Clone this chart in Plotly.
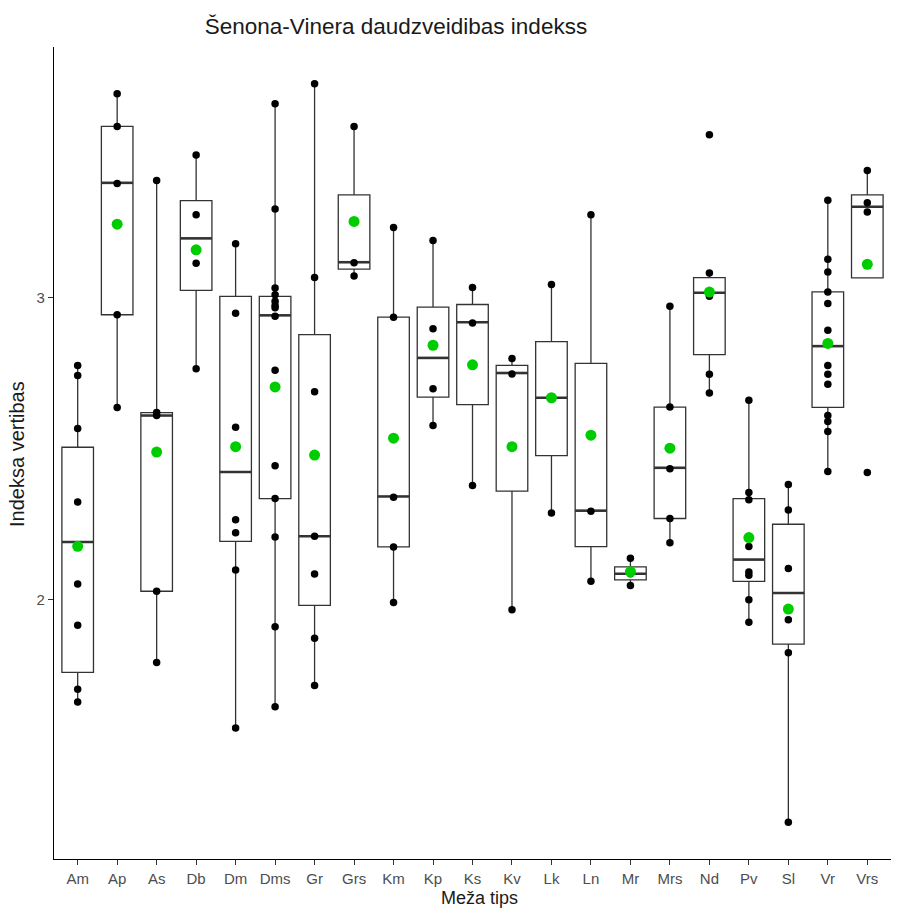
import plotly.graph_objects as go

# Forest types on the x axis
categories = ["Am", "Ap", "As", "Db", "Dm", "Dms", "Gr", "Grs", "Km", "Kp", "Ks",
              "Kv", "Lk", "Ln", "Mr", "Mrs", "Nd", "Pv", "Sl", "Vr", "Vrs"]

# Box statistics per forest type
q1 = [1.759, 2.944, 2.028, 3.025, 2.193, 2.335, 1.981, 3.095, 2.175, 2.671, 2.646,
      2.360, 2.477, 2.176, 2.066, 2.269, 2.812, 2.061, 1.853, 2.637, 3.066]
median = [2.191, 3.381, 2.610, 3.197, 2.423, 2.942, 2.210, 3.118, 2.342, 2.801, 2.919,
          2.751, 2.669, 2.295, 2.086, 2.437, 3.017, 2.133, 2.022, 2.840, 3.302]
q3 = [2.505, 3.568, 2.620, 3.322, 3.005, 3.005, 2.878, 3.341, 2.936, 2.969, 2.978,
      2.776, 2.855, 2.783, 2.109, 2.638, 3.067, 2.335, 2.250, 3.020, 3.341]
lower_whisker = [1.661, 2.637, 1.792, 2.765, 1.575, 1.645, 1.716, 3.072, 1.991, 2.577, 2.378,
                 1.967, 2.287, 2.061, 2.047, 2.189, 2.685, 1.925, 1.263, 2.425, 3.066]
upper_whisker = [2.776, 3.676, 3.389, 3.473, 3.179, 3.643, 3.709, 3.568, 3.233, 3.190, 3.034,
                 2.799, 3.044, 3.275, 2.137, 2.972, 3.082, 2.661, 2.382, 3.323, 3.422]

# Group means
mean_values = [2.177, 3.244, 2.489, 3.159, 2.507, 2.705, 2.479, 3.253, 2.535, 2.843, 2.778,
               2.507, 2.669, 2.545, 2.093, 2.502, 3.019, 2.206, 1.969, 2.849, 3.111]

# Individual index values per forest type
point_values = [
    [2.776, 2.743, 2.567, 2.324, 2.052, 1.915, 1.703, 1.661],
    [3.676, 3.568, 3.379, 2.944, 2.637],
    [3.389, 2.620, 2.610, 2.028, 1.792],
    [3.473, 3.275, 3.115, 2.765],
    [3.179, 2.949, 2.571, 2.265, 2.222, 2.098, 1.575],
    [3.643, 3.294, 3.033, 3.010, 2.989, 2.975, 2.967, 2.939, 2.760, 2.444, 2.335, 2.208, 1.910, 1.645],
    [3.709, 3.067, 2.689, 2.210, 2.085, 1.872, 1.716],
    [3.568, 3.116, 3.072],
    [3.233, 2.936, 2.339, 2.175, 1.991],
    [3.190, 2.898, 2.699, 2.577],
    [3.034, 2.917, 2.378],
    [2.799, 2.748, 1.967],
    [3.044, 2.287],
    [3.275, 2.293, 2.061],
    [2.137, 2.086, 2.047],
    [2.972, 2.638, 2.434, 2.269, 2.189],
    [3.540, 3.082, 3.005, 2.747, 2.685],
    [2.661, 2.355, 2.331, 2.176, 2.092, 2.081, 2.000, 1.925],
    [2.382, 2.297, 2.103, 1.934, 1.824, 1.263],
    [3.323, 3.128, 3.086, 3.019, 2.981, 2.893, 2.776, 2.747, 2.714, 2.610, 2.590, 2.557, 2.425],
    [3.422, 3.315, 3.284, 2.421],
]

positions = list(range(len(categories)))
box_half = 0.4
edge = "#333333"
font_family = "Liberation Sans, Arial, sans-serif"

fig = go.Figure()

fig.add_trace(go.Box(
    x=positions, q1=q1, median=median, q3=q3,
    lowerfence=lower_whisker, upperfence=upper_whisker,
    width=2 * box_half, whiskerwidth=0, boxpoints=False,
    fillcolor="white", line=dict(color=edge, width=1.3),
    showlegend=False, hoverinfo="skip",
))

# Thicker median bars, as in ggplot boxplots
mx, my = [], []
for p, m in zip(positions, median):
    mx += [p - box_half, p + box_half, None]
    my += [m, m, None]
fig.add_trace(go.Scatter(x=mx, y=my, mode="lines",
                         line=dict(color=edge, width=2.6),
                         showlegend=False, hoverinfo="skip"))

px, py = [], []
for p, vals in zip(positions, point_values):
    px += [p] * len(vals)
    py += vals
fig.add_trace(go.Scatter(x=px, y=py, mode="markers",
                         marker=dict(color="black", size=7.5),
                         showlegend=False))

fig.add_trace(go.Scatter(x=positions, y=mean_values, mode="markers",
                         marker=dict(color="#00CD00", size=11),
                         showlegend=False))

tick_font = dict(family=font_family, size=15, color="#4D4D4D")
axis_title_font = dict(family=font_family, size=20, color="#1a1a1a")

fig.update_layout(
    width=901, height=910,
    margin=dict(l=54, r=10, t=47, b=51),
    paper_bgcolor="white", plot_bgcolor="white",
    title=dict(text="Šenona-Vinera daudzveidibas indekss",
               x=0.4395, xanchor="center", y=0.971, yanchor="middle",
               font=dict(family=font_family, size=22.5, color="#1a1a1a")),
    xaxis=dict(
        range=[-0.6, len(categories) - 0.4],
        tickvals=positions, ticktext=categories,
        showline=True, linecolor="black", linewidth=1.3,
        ticks="outside", ticklen=5, tickcolor="#333333", tickwidth=1,
        ticklabelstandoff=1,
        showgrid=False, zeroline=False, tickfont=tick_font,
    ),
    yaxis=dict(
        range=[1.141, 3.831],
        tickvals=[2, 3], ticktext=["2", "3"],
        showline=True, linecolor="black", linewidth=1.3,
        ticks="outside", ticklen=5, tickcolor="#333333", tickwidth=1,
        showgrid=False, zeroline=False, tickfont=tick_font,
    ),
    annotations=[
        dict(text="Meža tips", xref="paper", yref="paper",
             x=0.508, y=-0.0616, xanchor="center", yanchor="bottom",
             borderpad=0, showarrow=False,
             font=dict(family=font_family, size=18, color="#1a1a1a")),
        dict(text="Indeksa vertibas", xref="paper", yref="paper",
             x=-0.0442, y=0.4988, xanchor="center", yanchor="middle",
             textangle=-90, showarrow=False, font=axis_title_font),
    ],
)

fig.write_html("out.html")
